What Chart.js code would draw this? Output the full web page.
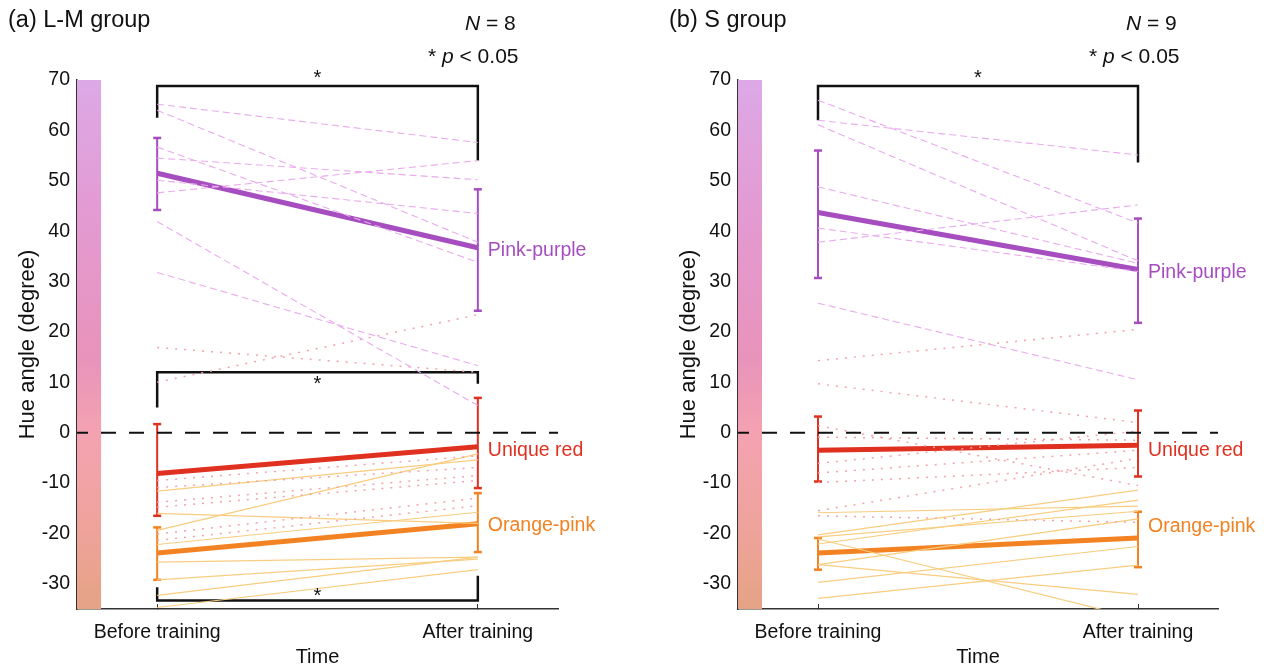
<!DOCTYPE html>
<html>
<head>
<meta charset="utf-8">
<script src="https://cdn.jsdelivr.net/npm/chart.js@4.4.0/dist/chart.umd.min.js"></script>
<style>
  html, body { margin: 0; padding: 0; background: #fff; }
  #wrap { position: relative; width: 1268px; height: 669px; overflow: hidden; }
  canvas { position: absolute; top: 0; }
</style>
</head>
<body>
<div id="wrap">
  <canvas id="chartA" width="634" height="669" style="left:0"></canvas>
  <canvas id="chartB" width="607" height="669" style="left:661px"></canvas>
</div>
<script>
// --- data ---
const categories = ['Before training', 'After training'];
const catPos = [1, 2];
const yTickValues = [-30, -20, -10, 0, 10, 20, 30, 40, 50, 60, 70];

// (a) L-M group, N = 8
const lmPinkBefore = [65.2, 64.0, 56.7, 54.5, 50.1, 47.6, 41.9, 31.8];
const lmPinkAfter = [57.6, 37.8, 33.8, 50.2, 43.5, 54.0, 5.4, 13.3];
const lmRedBefore = [16.9, 10.0, -9.5, -10.9, -13.8, -14.8, -20.1, -21.4];
const lmRedAfter = [12.0, 23.4, -4.6, -6.9, -8.5, -9.5, -13.0, -14.5];
const lmOrangeBefore = [-11.6, -16.0, -19.4, -22.2, -25.7, -29.2, -32.3, -34.7];
const lmOrangeAfter = [-5.4, -18.0, -4.2, -15.8, -24.7, -25.1, -24.7, -27.2];
const lmPinkMean = [51.5, 36.7];
const lmPinkLow = [44.2, 24.2];
const lmPinkHigh = [58.5, 48.3];
const lmRedMean = [-8.1, -2.8];
const lmRedLow = [-16.5, -11.0];
const lmRedHigh = [1.7, 6.9];
const lmOrangeMean = [-23.9, -18.1];
const lmOrangeLow = [-29.2, -23.7];
const lmOrangeHigh = [-18.8, -12.0];
const lmBrackets = [[62.5, 68.8, 68.8, 54.0], [5.0, 12.0, 12.0, 9.7], [-30.7, -33.3, -33.3, -28.4]];
const lmStars = [70.8, 10.0, -32.0];
const lmLabelY = [36.1, -3.6, -18.5];

// (b) S group, N = 9
const sPinkBefore = [66.0, 62.0, 61.1, 48.8, 40.6, 37.8, 25.7];
const sPinkAfter = [41.6, 55.1, 34.1, 33.6, 32.0, 45.2, 10.5];
const sRedBefore = [14.3, 9.7, 1.4, -0.9, -6.1, -8.0, -9.9, -15.5, -16.5];
const sRedAfter = [20.5, 2.0, -10.5, -1.5, 0.3, -3.5, -6.9, -5.1, -17.8];
const sOrangeBefore = [-15.9, -20.3, -21.1, -22.1, -26.2, -26.2, -29.7, -32.9, -20.7];
const sOrangeAfter = [-14.6, -11.4, -36.9, -13.4, -32.1, -17.1, -22.6, -26.3, -15.6];
const sPinkMean = [43.7, 32.4];
const sPinkLow = [30.7, 21.8];
const sPinkHigh = [56.0, 42.5];
const sRedMean = [-3.5, -2.5];
const sRedLow = [-9.7, -8.7];
const sRedHigh = [3.2, 4.4];
const sOrangeMean = [-23.9, -20.9];
const sOrangeLow = [-27.2, -26.7];
const sOrangeHigh = [-20.9, -15.7];
const sBrackets = [[62.0, 68.8, 68.8, 53.6]];
const sStars = [70.8];
const sLabelY = [31.7, -3.6, -18.7];

const groupNames = ['Pink-purple', 'Unique red', 'Orange-pink'];

// hue colour strip on the left of each axis
const stripX = [0.75, 0.825];
const stripStops = [70, 45, 15, 0, -20, -35];
const stripColors = ['#dca9e7', '#e39bd3', '#e893bb', '#f4a2b1', '#eea39a', '#e5a385'];

const COL = {
  pink: '#a64dc0', pinkThin: '#e9abee',
  red: '#e0301f', redThin: '#f5a1aa',
  orange: '#f38222', orangeThin: '#f8cd80'
};
const FONT = "'Liberation Sans', Arial, Helvetica, sans-serif";
Chart.defaults.font.family = FONT;
Chart.defaults.color = '#111';

function pairLines(before, after, color, dash, width) {
  return before.map((b, i) => ({
    data: [{ x: catPos[0], y: b }, { x: catPos[1], y: after[i] }],
    showLine: true, borderColor: color, borderWidth: width, borderDash: dash,
    pointRadius: 0, pointHoverRadius: 0
  }));
}

function meanLine(mean, color) {
  return {
    data: [{ x: catPos[0], y: mean[0] }, { x: catPos[1], y: mean[1] }],
    showLine: true, borderColor: color, borderWidth: 5, pointRadius: 0, borderCapStyle: 'butt'
  };
}

function errorBars(low, high, color) {
  return catPos.map((p, i) => ({
    data: [{ x: p, y: low[i] }, { x: p, y: high[i] }],
    showLine: true, borderColor: color, borderWidth: 2,
    pointStyle: 'line', pointRadius: 4, pointBorderWidth: 2.5,
    pointBorderColor: color, pointBackgroundColor: color
  }));
}

function bracket(b) {
  return {
    data: [{ x: 1, y: b[0] }, { x: 1, y: b[1] }, { x: 2, y: b[2] }, { x: 2, y: b[3] }],
    showLine: true, borderColor: '#111', borderWidth: 2.5, pointRadius: 0, borderJoinStyle: 'miter'
  };
}

// colour strip + text annotations, positioned through the chart scales
const extrasPlugin = {
  id: 'extras',
  beforeDatasetsDraw(chart) {
    const { ctx, scales: { x, y } } = chart;
    const top = y.getPixelForValue(stripStops[0]);
    const bot = y.getPixelForValue(stripStops[stripStops.length - 1]);
    const g = ctx.createLinearGradient(0, top, 0, bot);
    stripStops.forEach((v, i) => g.addColorStop((y.getPixelForValue(v) - top) / (bot - top), stripColors[i]));
    ctx.save();
    ctx.fillStyle = g;
    const x0 = x.getPixelForValue(stripX[0]), x1 = x.getPixelForValue(stripX[1]);
    ctx.fillRect(x0, top, x1 - x0, bot - top);
    ctx.restore();
  },
  afterDraw(chart, args, o) {
    const { ctx, scales: { x, y } } = chart;
    ctx.save();
    ctx.textBaseline = 'middle';
    ctx.textAlign = 'left';
    ctx.fillStyle = '#111';
    ctx.font = '23.5px ' + FONT;
    ctx.fillText(o.title, 8, 21);
    // N = ..
    ctx.font = 'italic 21px ' + FONT;
    ctx.fillText('N', 465, 24);
    let w = ctx.measureText('N').width;
    ctx.font = '21px ' + FONT;
    ctx.fillText(' = ' + o.n, 465 + w, 24);
    // * p < 0.05
    ctx.fillText('* ', 428, 57);
    w = ctx.measureText('* ').width;
    ctx.font = 'italic 21px ' + FONT;
    ctx.fillText('p', 428 + w, 57);
    w += ctx.measureText('p').width;
    ctx.font = '21px ' + FONT;
    ctx.fillText(' < 0.05', 428 + w, 57);
    // stars above/below brackets
    ctx.textAlign = 'center';
    ctx.textBaseline = 'alphabetic';
    ctx.font = '20px ' + FONT;
    o.stars.forEach(v => ctx.fillText('*', x.getPixelForValue(1.5), y.getPixelForValue(v) + 8));
    // group labels
    ctx.textAlign = 'left';
    ctx.textBaseline = 'middle';
    ctx.font = '19.5px ' + FONT;
    const cols = [COL.pink, COL.red, COL.orange];
    o.labelY.forEach((v, i) => {
      ctx.fillStyle = cols[i];
      ctx.fillText(groupNames[i], x.getPixelForValue(2) + 10, y.getPixelForValue(v));
    });
    ctx.restore();
  }
};

function makePanel(id, padRight, d) {
  const datasets = [
    {
      data: [{ x: 0.75, y: 0 }, { x: 2.25, y: 0 }], showLine: true,
      borderColor: '#111', borderWidth: 2, borderDash: [15, 13], borderDashOffset: 4, pointRadius: 0
    },
    ...pairLines(d.pinkB, d.pinkA, COL.pinkThin, [7, 4], 1.1),
    ...pairLines(d.redB, d.redA, COL.redThin, [2, 7], 1.5),
    ...pairLines(d.orB, d.orA, COL.orangeThin, [], 1.2),
    meanLine(d.pinkM, COL.pink), meanLine(d.redM, COL.red), meanLine(d.orM, COL.orange),
    ...errorBars(d.pinkL, d.pinkH, COL.pink),
    ...errorBars(d.redL, d.redH, COL.red),
    ...errorBars(d.orL, d.orH, COL.orange),
    ...d.brackets.map(bracket)
  ];
  return new Chart(document.getElementById(id), {
    type: 'scatter',
    data: { datasets },
    options: {
      responsive: false,
      animation: false,
      events: [],
      layout: { padding: { top: 80, right: padRight, bottom: 0, left: 0 } },
      plugins: {
        legend: { display: false },
        tooltip: { enabled: false },
        extras: { title: d.title, n: d.n, stars: d.stars, labelY: d.labelY }
      },
      scales: {
        x: {
          type: 'linear', min: 0.75, max: 2.25,
          afterFit: s => { s.height = 60; },
          afterBuildTicks: s => { s.ticks = catPos.map(v => ({ value: v })); },
          ticks: {
            callback: v => categories[catPos.indexOf(v)] || '',
            font: { size: 19.5 }, color: '#111', padding: 17, maxRotation: 0
          },
          grid: { drawOnChartArea: false, tickLength: -5, color: '#333', lineWidth: 1 },
          border: { color: '#333', width: 1.5 },
          title: { display: true, text: 'Time', font: { size: 20 }, color: '#111', padding: { top: 0, bottom: 0 } }
        },
        y: {
          min: -35, max: 70,
          afterFit: s => { s.width = 77; },
          afterBuildTicks: s => { s.ticks = yTickValues.map(v => ({ value: v })); },
          ticks: { font: { size: 19.5 }, color: '#111', padding: 12 },
          grid: { drawOnChartArea: false, tickLength: -5, color: '#333', lineWidth: 1 },
          border: { color: '#333', width: 1.5 },
          title: { display: true, text: 'Hue angle (degree)', font: { size: 22 }, color: '#111', padding: { top: 15, bottom: 0 } }
        }
      }
    },
    plugins: [extrasPlugin]
  });
}

makePanel('chartA', 76, {
  title: '(a) L-M group', n: 8,
  pinkB: lmPinkBefore, pinkA: lmPinkAfter, redB: lmRedBefore, redA: lmRedAfter,
  orB: lmOrangeBefore, orA: lmOrangeAfter,
  pinkM: lmPinkMean, pinkL: lmPinkLow, pinkH: lmPinkHigh,
  redM: lmRedMean, redL: lmRedLow, redH: lmRedHigh,
  orM: lmOrangeMean, orL: lmOrangeLow, orH: lmOrangeHigh,
  brackets: lmBrackets, stars: lmStars, labelY: lmLabelY
});

makePanel('chartB', 50, {
  title: '(b) S group', n: 9,
  pinkB: sPinkBefore, pinkA: sPinkAfter, redB: sRedBefore, redA: sRedAfter,
  orB: sOrangeBefore, orA: sOrangeAfter,
  pinkM: sPinkMean, pinkL: sPinkLow, pinkH: sPinkHigh,
  redM: sRedMean, redL: sRedLow, redH: sRedHigh,
  orM: sOrangeMean, orL: sOrangeLow, orH: sOrangeHigh,
  brackets: sBrackets, stars: sStars, labelY: sLabelY
});
</script>
</body>
</html>
